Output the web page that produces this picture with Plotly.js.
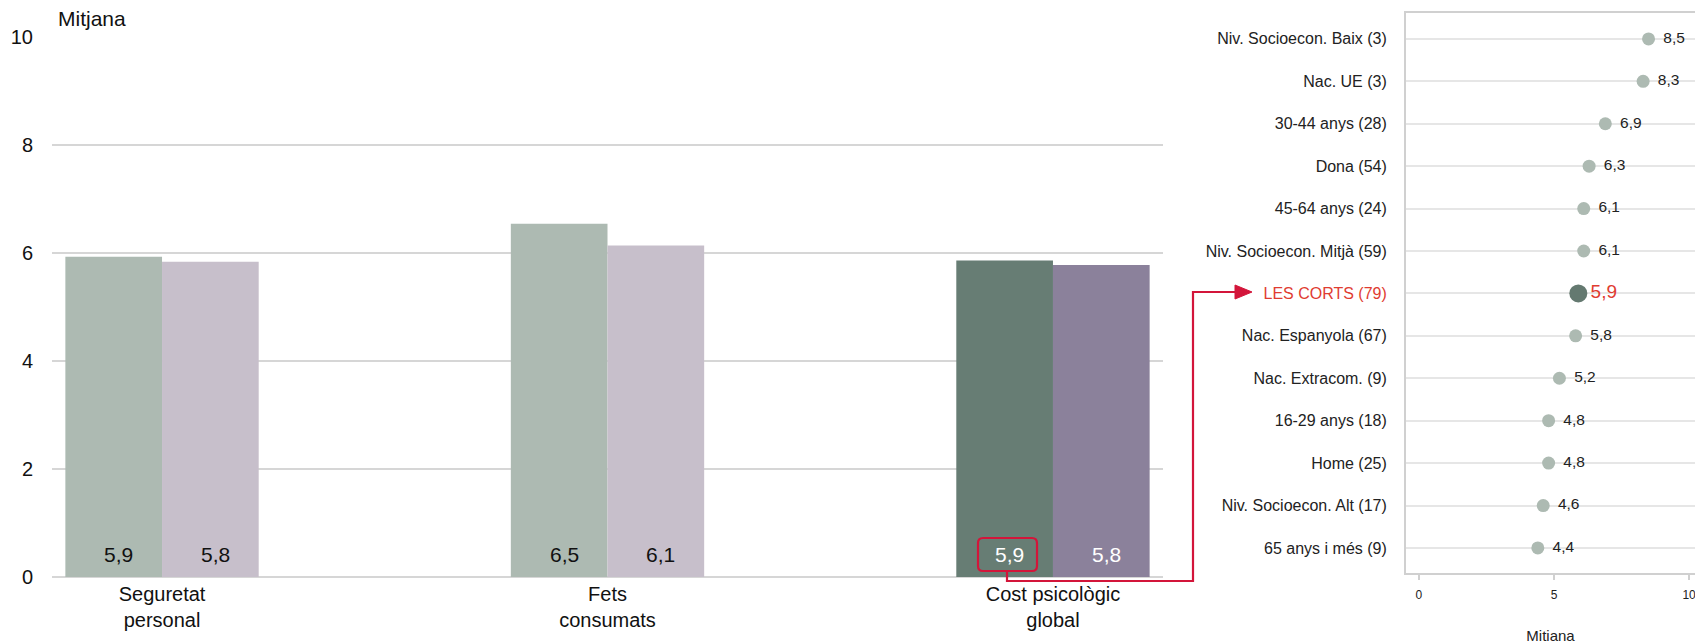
<!DOCTYPE html>
<html>
<head>
<meta charset="utf-8">
<script src="https://cdn.plot.ly/plotly-3.0.1.min.js"></script>
<style>html,body{margin:0;padding:0;background:#fff;}#chart{width:1695px;height:644px;}</style>
</head>
<body>
<div id="chart"></div>
<script>
// ---- Data ----
const barCategories = ["Seguretat<br>personal", "Fets<br>consumats", "Cost psicològic<br>global"];
const seriesA = [5.93, 6.54, 5.86];   // first bar of each pair
const seriesB = [5.84, 6.14, 5.78];   // second bar of each pair
const barTicks = [0, 2, 4, 6, 8, 10];

const groupLabels = [
  "Niv. Socioecon. Baix (3)", "Nac. UE (3)", "30-44 anys (28)", "Dona (54)",
  "45-64 anys (24)", "Niv. Socioecon. Mitjà (59)", "LES CORTS (79)",
  "Nac. Espanyola (67)", "Nac. Extracom. (9)", "16-29 anys (18)",
  "Home (25)", "Niv. Socioecon. Alt (17)", "65 anys i més (9)"
];
const groupValues = [8.5, 8.3, 6.9, 6.3, 6.1, 6.1, 5.9, 5.8, 5.2, 4.8, 4.8, 4.6, 4.4];
const highlight = "LES CORTS (79)";
const dotTicks = [0, 5, 10];

// ---- Styles ----
const FONT = "Liberation Sans, Arial, sans-serif";
const W = 1695, H = 644;
const px = x => x / W;
const py = y => 1 - y / H;
const RED = "#d3153a";
const BARGAP = 0.566;

const colA = ["#adbab2", "#adbab2", "#677d74"];
const colB = ["#c7bfcb", "#c7bfcb", "#8b819b"];
const txtCol = ["#111", "#111", "#fff"];

const traces = [
  {
    type: "bar", x: barCategories, y: seriesA, xaxis: "x", yaxis: "y",
    marker: {color: colA, line: {width: 0}}, hoverinfo: "skip"
  },
  {
    type: "bar", x: barCategories, y: seriesB, xaxis: "x", yaxis: "y",
    marker: {color: colB, line: {width: 0}}, hoverinfo: "skip"
  },
  {
    type: "scatter", mode: "markers+text", x: groupValues, y: groupLabels,
    xaxis: "x2", yaxis: "y2",
    marker: {
      color: groupLabels.map(g => g === highlight ? "#647970" : "#adbab2"),
      size: groupLabels.map(g => g === highlight ? 18 : 13),
      opacity: 1,
      line: {width: 0}
    },
    text: groupValues.map((v, i) => (groupLabels[i] === highlight ? "" : "\u00a0\u200a") + v.toFixed(1).replace(".", ",")),
    texttemplate: "%{text}", textposition: "middle right",
    textfont: {
      family: FONT,
      size: groupLabels.map(g => g === highlight ? 19 : 15.5),
      color: groupLabels.map(g => g === highlight ? "#e03c31" : "#222")
    },
    hoverinfo: "skip", cliponaxis: false
  }
];

// bar value labels, placed at the base of each bar through the category scale
const halfW = (1 - BARGAP) / 4;
const barLabels = [];
barCategories.forEach((c, i) => {
  [[seriesA, -halfW], [seriesB, halfW]].forEach(([s, off]) => {
    barLabels.push({
      xref: "x", yref: "y", x: i + off, y: 0, yanchor: "middle", yshift: 23, xshift: 5,
      text: s[i].toFixed(1).replace(".", ","), showarrow: false,
      font: {family: FONT, size: 21, color: txtCol[i]}
    });
  });
});

// rounded rect path (paper coords)
function roundRect(x0, y0, x1, y1, r) {
  return `M ${px(x0 + r)} ${py(y0)} L ${px(x1 - r)} ${py(y0)} Q ${px(x1)} ${py(y0)} ${px(x1)} ${py(y0 + r)} ` +
         `L ${px(x1)} ${py(y1 - r)} Q ${px(x1)} ${py(y1)} ${px(x1 - r)} ${py(y1)} ` +
         `L ${px(x0 + r)} ${py(y1)} Q ${px(x0)} ${py(y1)} ${px(x0)} ${py(y1 - r)} ` +
         `L ${px(x0)} ${py(y0 + r)} Q ${px(x0)} ${py(y0)} ${px(x0 + r)} ${py(y0)} Z`;
}

const layout = {
  width: W, height: H,
  margin: {l: 0, r: 0, t: 0, b: 0, pad: 0},
  paper_bgcolor: "#fff", plot_bgcolor: "rgba(0,0,0,0)",
  showlegend: false,
  separators: ", ",
  font: {family: FONT, color: "#111"},
  barmode: "group", bargap: BARGAP, bargroupgap: 0,
  xaxis: {
    domain: [px(52), px(1163)], type: "category",
    range: [-0.247, 2.247], showgrid: false, zeroline: false, showline: false,
    ticks: "", tickfont: {family: FONT, size: 20, color: "#111"},
    fixedrange: true, automargin: false, ticklabelstandoff: 3
  },
  yaxis: {
    domain: [1 - 577 / H, 1 - 37 / H], range: [0, 10],
    tickvals: barTicks, ticktext: barTicks.map(String),
    showgrid: true, gridcolor: "#d6d6d6", gridwidth: 1.6,
    zeroline: true, zerolinecolor: "#d6d6d6", zerolinewidth: 1.6,
    showline: false, ticks: "", ticklabelstandoff: 18,
    tickfont: {family: FONT, size: 20, color: "#111"},
    fixedrange: true, automargin: false
  },
  xaxis2: {
    domain: [px(1406), 1], range: [-0.48, 10.22],
    anchor: "y2", tickvals: dotTicks, ticktext: dotTicks.map(String),
    showgrid: false, zeroline: false,
    showline: true, linecolor: "#d0d0d0", linewidth: 2, mirror: true,
    ticks: "outside", ticklen: 5, tickcolor: "#d0d0d0", tickwidth: 1.5,
    ticklabelstandoff: 5, ticklabeloverflow: "allow",
    tickfont: {family: FONT, size: 12, color: "#222"},
    title: {text: "Mitiana", font: {family: FONT, size: 15, color: "#222"}, standoff: 31},
    fixedrange: true, automargin: false
  },
  yaxis2: {
    domain: [1 - 573 / H, 1 - 13 / H], anchor: "x2", type: "category",
    range: [12.59, -0.61],
    tickvals: groupLabels,
    ticktext: groupLabels.map(g => g === highlight ? `<span style="color:#e03c31">${g}</span>` : g),
    showgrid: true, gridcolor: "#e6e6e6", gridwidth: 2,
    zeroline: false, showline: true, linecolor: "#d0d0d0", linewidth: 2,
    ticks: "", ticklabelstandoff: 14,
    tickfont: {family: FONT, size: 16, color: "#222"},
    fixedrange: true, automargin: false
  },
  annotations: [
    {xref: "paper", yref: "paper", x: px(56), y: py(18), xanchor: "left", yanchor: "middle",
     text: "Mitjana", showarrow: false, font: {family: FONT, size: 21, color: "#111"}}
  ].concat(barLabels),
  shapes: [
    {type: "path", xref: "paper", yref: "paper", path: roundRect(978, 538, 1037, 571, 5),
     line: {color: RED, width: 2.2}, fillcolor: "rgba(0,0,0,0)", layer: "above"},
    {type: "path", xref: "paper", yref: "paper",
     path: `M ${px(1007)} ${py(571)} L ${px(1007)} ${py(581)} L ${px(1193)} ${py(581)} L ${px(1193)} ${py(292)} L ${px(1237)} ${py(292)}`,
     line: {color: RED, width: 2.2}, fillcolor: "rgba(0,0,0,0)", layer: "above"},
    {type: "path", xref: "paper", yref: "paper",
     path: `M ${px(1235)} ${py(285)} L ${px(1252)} ${py(292)} L ${px(1235)} ${py(299)} Z`,
     line: {color: RED, width: 1}, fillcolor: RED, layer: "above"}
  ]
};

Plotly.newPlot("chart", traces, layout, {displayModeBar: false, staticPlot: true});
</script>
</body>
</html>
